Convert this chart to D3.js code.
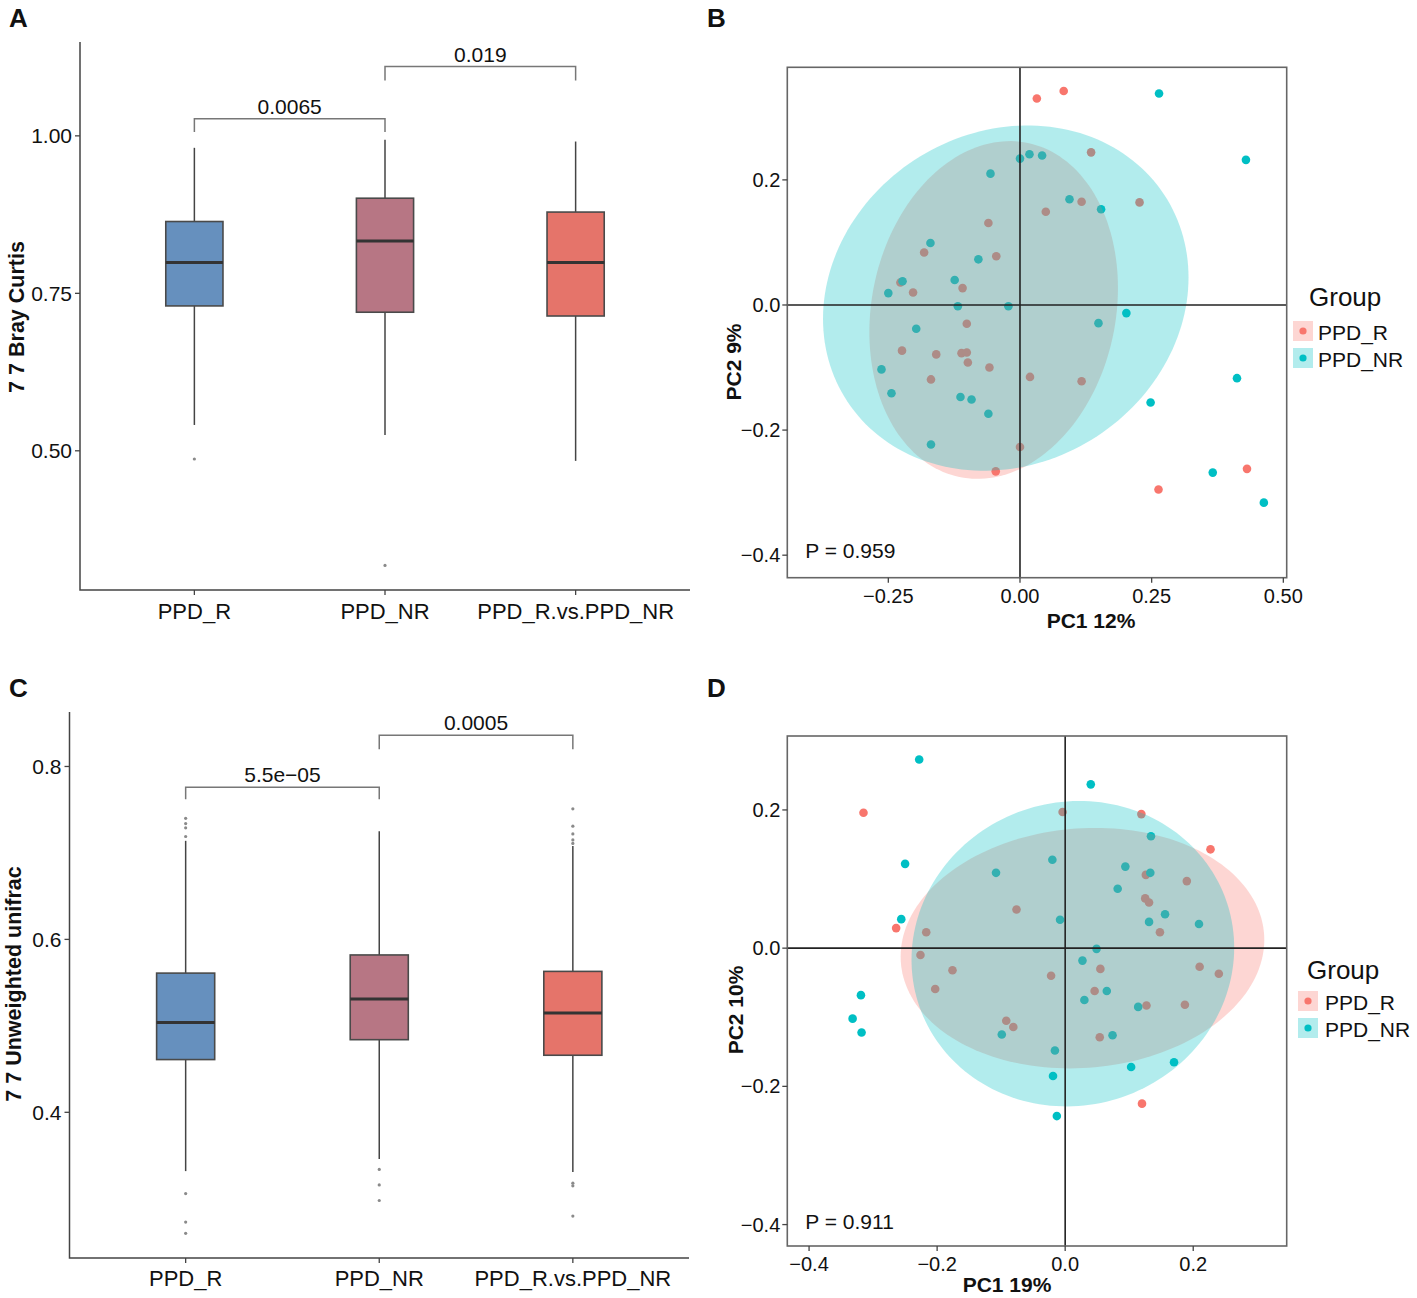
<!DOCTYPE html>
<html><head><meta charset="utf-8">
<script src="https://cdn.jsdelivr.net/npm/d3@7"></script>
<style>body{margin:0;background:#fff}svg text{font-family:"Liberation Sans",Arial,Helvetica,sans-serif;fill:#111}</style>
</head><body><svg id="c" width="1417" height="1298"></svg>
<script>
// ---------------- DATA ----------------
const groups = ["PPD_R", "PPD_NR", "PPD_R.vs.PPD_NR"];
const boxColors = ["#6690BE", "#B77684", "#E5746A"];

// Panel A: Bray Curtis
const brayTicks = [0.50, 0.75, 1.00];
const brayLow  = [0.541, 0.525, 0.484];
const brayQ1   = [0.730, 0.720, 0.714];
const brayMed  = [0.799, 0.833, 0.799];
const brayQ3   = [0.864, 0.901, 0.879];
const brayHigh = [0.981, 0.994, 0.991];
const brayOutliers = [[0.487], [0.318], []];
const brayBrackets = [
  {a: 0, b: 1, top: 1.027, end: 1.006, label: "0.0065"},
  {a: 1, b: 2, top: 1.110, end: 1.088, label: "0.019"}
];

// Panel C: Unweighted unifrac
const unifracTicks = [0.4, 0.6, 0.8];
const unifracLow  = [0.332, 0.346, 0.331];
const unifracQ1   = [0.461, 0.484, 0.466];
const unifracMed  = [0.504, 0.531, 0.515];
const unifracQ3   = [0.561, 0.582, 0.563];
const unifracHigh = [0.714, 0.725, 0.708];
const unifracOutliers = [
  [0.740, 0.734, 0.729, 0.719, 0.306, 0.273, 0.260],
  [0.334, 0.316, 0.298],
  [0.751, 0.731, 0.722, 0.715, 0.711, 0.318, 0.315, 0.280]
];
const unifracBrackets = [
  {a: 0, b: 1, top: 0.776, end: 0.762, label: "5.5e\u221205"},
  {a: 1, b: 2, top: 0.836, end: 0.820, label: "0.0005"}
];

// Panel B: PCoA (Bray Curtis)
const pcoaB_R = [
  [0.032,0.330],[0.083,0.342],[0.135,0.244],[0.117,0.165],[0.227,0.164],[0.049,0.149],
  [-0.060,0.131],[-0.182,0.084],[-0.045,0.078],[-0.227,0.036],[-0.203,0.020],[-0.109,0.027],
  [-0.101,-0.030],[-0.224,-0.073],[-0.159,-0.079],[-0.111,-0.077],[-0.101,-0.076],[-0.099,-0.092],
  [-0.058,-0.100],[-0.169,-0.119],[0.019,-0.115],[0.117,-0.122],[0.000,-0.227],[-0.046,-0.266],
  [0.431,-0.262],[0.263,-0.295]
];
const pcoaB_NR = [
  [0.264,0.338],[0.429,0.232],[0.000,0.234],[0.018,0.241],[0.042,0.239],[-0.056,0.210],
  [0.094,0.169],[0.154,0.153],[-0.170,0.099],[-0.079,0.073],[-0.223,0.038],[-0.250,0.019],
  [-0.124,0.040],[-0.118,-0.002],[-0.022,-0.002],[0.202,-0.013],[0.149,-0.029],[-0.197,-0.038],
  [-0.263,-0.103],[-0.244,-0.141],[-0.113,-0.147],[-0.092,-0.151],[-0.060,-0.174],[0.412,-0.117],
  [0.248,-0.156],[-0.169,-0.223],[0.366,-0.268],[0.463,-0.316]
];
// ellipse: [centerX, centerY, halfWidthX, halfWidthY, correlation]
const ellipseB_R  = [-0.050, -0.008, 0.236, 0.270, 0.13];
const ellipseB_NR = [-0.027,  0.011, 0.347, 0.276, 0.12];
const pcoaB_xTicks = [-0.25, 0, 0.25, 0.50];
const pcoaB_yTicks = [-0.4, -0.2, 0, 0.2];

// Panel D: PCoA (Unweighted unifrac)
const pcoaD_R = [
  [-0.315,0.196],[-0.004,0.197],[0.119,0.194],[0.227,0.143],[0.126,0.106],[0.190,0.097],
  [0.125,0.072],[0.131,0.066],[-0.076,0.056],[0.148,0.023],[-0.264,0.029],[-0.217,0.023],
  [-0.226,-0.010],[0.055,-0.030],[-0.176,-0.032],[-0.022,-0.040],[0.210,-0.027],[0.240,-0.037],
  [-0.203,-0.059],[0.046,-0.062],[0.127,-0.083],[0.187,-0.082],[-0.092,-0.105],[-0.081,-0.114],
  [0.054,-0.129],[0.120,-0.225]
];
const pcoaD_NR = [
  [-0.228,0.273],[0.040,0.237],[0.134,0.162],[-0.250,0.122],[-0.020,0.128],[-0.108,0.109],
  [0.094,0.118],[0.133,0.109],[0.082,0.086],[-0.008,0.041],[0.156,0.049],[0.131,0.038],
  [0.209,0.035],[-0.256,0.042],[0.049,-0.001],[0.027,-0.018],[0.065,-0.062],[0.030,-0.075],
  [0.114,-0.085],[-0.319,-0.068],[-0.332,-0.102],[-0.318,-0.122],[-0.099,-0.125],[0.074,-0.126],
  [-0.016,-0.148],[0.103,-0.172],[0.170,-0.165],[-0.019,-0.185],[-0.013,-0.243]
];
const ellipseD_R  = [0.027,  0.000, 0.284, 0.174, 0.07];
const ellipseD_NR = [0.012, -0.008, 0.252, 0.221, 0.04];
const pcoaD_xTicks = [-0.4, -0.2, 0, 0.2];
const pcoaD_yTicks = [-0.4, -0.2, 0, 0.2];

const legendLabels = ["PPD_R", "PPD_NR"];
const groupColors = ["#F8766D", "#00BFC4"];

// ---------------- DRAW ----------------
const svg = d3.select("#c");

function panelLetter(t, x, y) {
  svg.append("text").attr("x", x).attr("y", y).attr("font-size", 26).attr("font-weight", "bold").text(t);
}

function boxPanel(o) {
  const g = svg.append("g");
  const x = d3.scalePoint().domain(groups).range([o.left, o.right]).padding(0.6);
  const y = d3.scaleLinear().domain(o.yDom).range([o.bottom, o.top]);
  const bw = x.step() * 0.3;
  const axisCol = "#444";
  g.append("path").attr("d", `M${o.left},${o.top}V${o.bottom}H${o.right}`)
    .attr("fill", "none").attr("stroke", axisCol).attr("stroke-width", 1.5);
  o.ticks.forEach(t => {
    g.append("line").attr("x1", o.left - 5).attr("x2", o.left).attr("y1", y(t)).attr("y2", y(t))
      .attr("stroke", axisCol).attr("stroke-width", 1.3);
    g.append("text").attr("x", o.left - 8).attr("y", y(t)).attr("dy", "0.35em")
      .attr("text-anchor", "end").attr("font-size", 21).attr("fill", "#222").text(o.fmt(t));
  });
  groups.forEach((gr, i) => {
    const cx = x(gr);
    g.append("line").attr("x1", cx).attr("x2", cx).attr("y1", o.bottom).attr("y2", o.bottom + 5)
      .attr("stroke", axisCol).attr("stroke-width", 1.3);
    g.append("text").attr("x", cx).attr("y", o.bottom + o.labelOff).attr("text-anchor", "middle")
      .attr("font-size", 22).attr("fill", "#222").text(gr);
    g.append("line").attr("x1", cx).attr("x2", cx).attr("y1", y(o.low[i])).attr("y2", y(o.q1[i]))
      .attr("stroke", "#444").attr("stroke-width", 1.5);
    g.append("line").attr("x1", cx).attr("x2", cx).attr("y1", y(o.q3[i])).attr("y2", y(o.high[i]))
      .attr("stroke", "#444").attr("stroke-width", 1.5);
    g.append("rect").attr("x", cx - bw / 2).attr("y", y(o.q3[i])).attr("width", bw)
      .attr("height", y(o.q1[i]) - y(o.q3[i])).attr("fill", boxColors[i])
      .attr("stroke", "#4a4a4a").attr("stroke-width", 1.6);
    g.append("line").attr("x1", cx - bw / 2).attr("x2", cx + bw / 2)
      .attr("y1", y(o.med[i])).attr("y2", y(o.med[i])).attr("stroke", "#333").attr("stroke-width", 3);
    o.outliers[i].forEach(v => {
      g.append("circle").attr("cx", cx).attr("cy", y(v)).attr("r", 1.6).attr("fill", "#8a8a8a");
    });
  });
  o.brackets.forEach(b => {
    const xa = x(groups[b.a]), xb = x(groups[b.b]);
    g.append("path").attr("d", `M${xa},${y(b.end)}V${y(b.top)}H${xb}V${y(b.end)}`)
      .attr("fill", "none").attr("stroke", "#777").attr("stroke-width", 1.5);
    g.append("text").attr("x", (xa + xb) / 2).attr("y", y(b.top) - 5).attr("text-anchor", "middle")
      .attr("font-size", 21).attr("fill", "#222").text(b.label);
  });
  g.append("text").attr("transform", `translate(${o.titleX},${o.titleY}) rotate(-90)`)
    .attr("text-anchor", "middle").attr("font-size", 21.5).attr("font-weight", "bold").text(o.title);
}

let clipId = 0;
function pcoaPanel(o) {
  const g = svg.append("g");
  const x = d3.scaleLinear().domain(o.xDom).range([o.left, o.right]);
  const y = d3.scaleLinear().domain(o.yDom).range([o.bottom, o.top]);
  const id = "clip" + (clipId++);
  g.append("clipPath").attr("id", id).append("rect")
    .attr("x", o.left).attr("y", o.top).attr("width", o.right - o.left).attr("height", o.bottom - o.top);
  const inner = g.append("g").attr("clip-path", `url(#${id})`);
  [o.ptsR, o.ptsNR].forEach((pts, k) => {
    inner.selectAll(null).data(pts).enter().append("circle")
      .attr("cx", d => x(d[0])).attr("cy", d => y(d[1])).attr("r", 4.3).attr("fill", groupColors[k]);
  });
  const line = d3.line().x(d => x(d[0])).y(d => y(d[1])).curve(d3.curveLinearClosed);
  [o.ellR, o.ellNR].forEach((e, k) => {
    const [cx, cy, rx, ry, rho] = e;
    const delta = Math.acos(rho);
    const pts = d3.range(0, 2 * Math.PI, Math.PI / 90).map(t => [cx + rx * Math.cos(t), cy + ry * Math.cos(t - delta)]);
    inner.append("path").attr("d", line(pts)).attr("fill", groupColors[k]).attr("fill-opacity", 0.3);
  });
  inner.append("line").attr("x1", x(0)).attr("x2", x(0)).attr("y1", o.top).attr("y2", o.bottom)
    .attr("stroke", "#222").attr("stroke-width", 1.6);
  inner.append("line").attr("x1", o.left).attr("x2", o.right).attr("y1", y(0)).attr("y2", y(0))
    .attr("stroke", "#222").attr("stroke-width", 1.6);
  g.append("rect").attr("x", o.left).attr("y", o.top).attr("width", o.right - o.left)
    .attr("height", o.bottom - o.top).attr("fill", "none").attr("stroke", "#666").attr("stroke-width", 1.6);
  o.xTicks.forEach(t => {
    g.append("line").attr("x1", x(t)).attr("x2", x(t)).attr("y1", o.bottom).attr("y2", o.bottom + 5)
      .attr("stroke", "#444").attr("stroke-width", 1.3);
    g.append("text").attr("x", x(t)).attr("y", o.bottom + 25).attr("text-anchor", "middle")
      .attr("font-size", 20).attr("fill", "#222").text(o.xFmt(t));
  });
  o.yTicks.forEach(t => {
    g.append("line").attr("x1", o.left - 5).attr("x2", o.left).attr("y1", y(t)).attr("y2", y(t))
      .attr("stroke", "#444").attr("stroke-width", 1.3);
    g.append("text").attr("x", o.left - 7).attr("y", y(t)).attr("dy", "0.35em").attr("text-anchor", "end")
      .attr("font-size", 20).attr("fill", "#222").text(o.yFmt(t));
  });
  g.append("text").attr("x", o.left + 18).attr("y", o.pY).attr("font-size", 21).attr("fill", "#111").text(o.pText);
  g.append("text").attr("x", o.xTitleX).attr("y", o.xTitleY).attr("text-anchor", "middle")
    .attr("font-size", 21).attr("font-weight", "bold").text(o.xTitle);
  g.append("text").attr("transform", `translate(${o.yTitleX},${o.yTitleY}) rotate(-90)`)
    .attr("text-anchor", "middle").attr("font-size", 21).attr("font-weight", "bold").text(o.yTitle);
  // legend
  const lg = g.append("g").attr("transform", `translate(${o.legX},${o.legY})`);
  lg.append("text").attr("x", o.legTitleDx).attr("y", o.legTitleDy).attr("font-size", 26).text("Group");
  legendLabels.forEach((lab, k) => {
    const yy = 16 + k * 27;
    lg.append("rect").attr("x", 0).attr("y", yy).attr("width", 20).attr("height", 20)
      .attr("fill", groupColors[k]).attr("fill-opacity", 0.3);
    lg.append("circle").attr("cx", 10).attr("cy", yy + 10).attr("r", 3.6).attr("fill", groupColors[k]);
    lg.append("text").attr("x", o.legLabelDx).attr("y", yy + 19).attr("font-size", 21).attr("fill", "#222").text(lab);
  });
}

panelLetter("A", 9, 27);
panelLetter("B", 707, 27);
panelLetter("C", 9, 697);
panelLetter("D", 707, 697);

boxPanel({left: 80, right: 690, top: 42, bottom: 590, yDom: [0.279, 1.149],
  ticks: brayTicks, fmt: d3.format(".2f"),
  low: brayLow, q1: brayQ1, med: brayMed, q3: brayQ3, high: brayHigh, outliers: brayOutliers,
  brackets: brayBrackets, labelOff: 29, title: "7 7 Bray Curtis", titleX: 24, titleY: 317});

boxPanel({left: 69.5, right: 689, top: 712, bottom: 1258, yDom: [0.2315, 0.863],
  ticks: unifracTicks, fmt: d3.format(".1f"),
  low: unifracLow, q1: unifracQ1, med: unifracMed, q3: unifracQ3, high: unifracHigh, outliers: unifracOutliers,
  brackets: unifracBrackets, labelOff: 28, title: "7 7 Unweighted unifrac", titleX: 21, titleY: 984});

pcoaPanel({left: 787.3, right: 1286.7, top: 67.3, bottom: 577.7,
  xDom: [-0.4418, 0.5064], yDom: [-0.436, 0.380],
  ptsR: pcoaB_R, ptsNR: pcoaB_NR, ellR: ellipseB_R, ellNR: ellipseB_NR,
  xTicks: pcoaB_xTicks, yTicks: pcoaB_yTicks, xFmt: d3.format(".2f"), yFmt: d3.format(".1f"),
  pText: "P = 0.959", pY: 558,
  xTitle: "PC1 12%", xTitleX: 1091, xTitleY: 628, yTitle: "PC2 9%", yTitleX: 741, yTitleY: 362,
  legX: 1293, legY: 305, legTitleDx: 16, legTitleDy: 1, legLabelDx: 25});

pcoaPanel({left: 787.3, right: 1286.7, top: 736, bottom: 1246,
  xDom: [-0.434, 0.346], yDom: [-0.431, 0.307],
  ptsR: pcoaD_R, ptsNR: pcoaD_NR, ellR: ellipseD_R, ellNR: ellipseD_NR,
  xTicks: pcoaD_xTicks, yTicks: pcoaD_yTicks, xFmt: d3.format(".1f"), yFmt: d3.format(".1f"),
  pText: "P = 0.911", pY: 1229,
  xTitle: "PC1 19%", xTitleX: 1007, xTitleY: 1292, yTitle: "PC2 10%", yTitleX: 743, yTitleY: 1010,
  legX: 1298, legY: 975, legTitleDx: 9, legTitleDy: 4, legLabelDx: 27});
</script></body></html>
